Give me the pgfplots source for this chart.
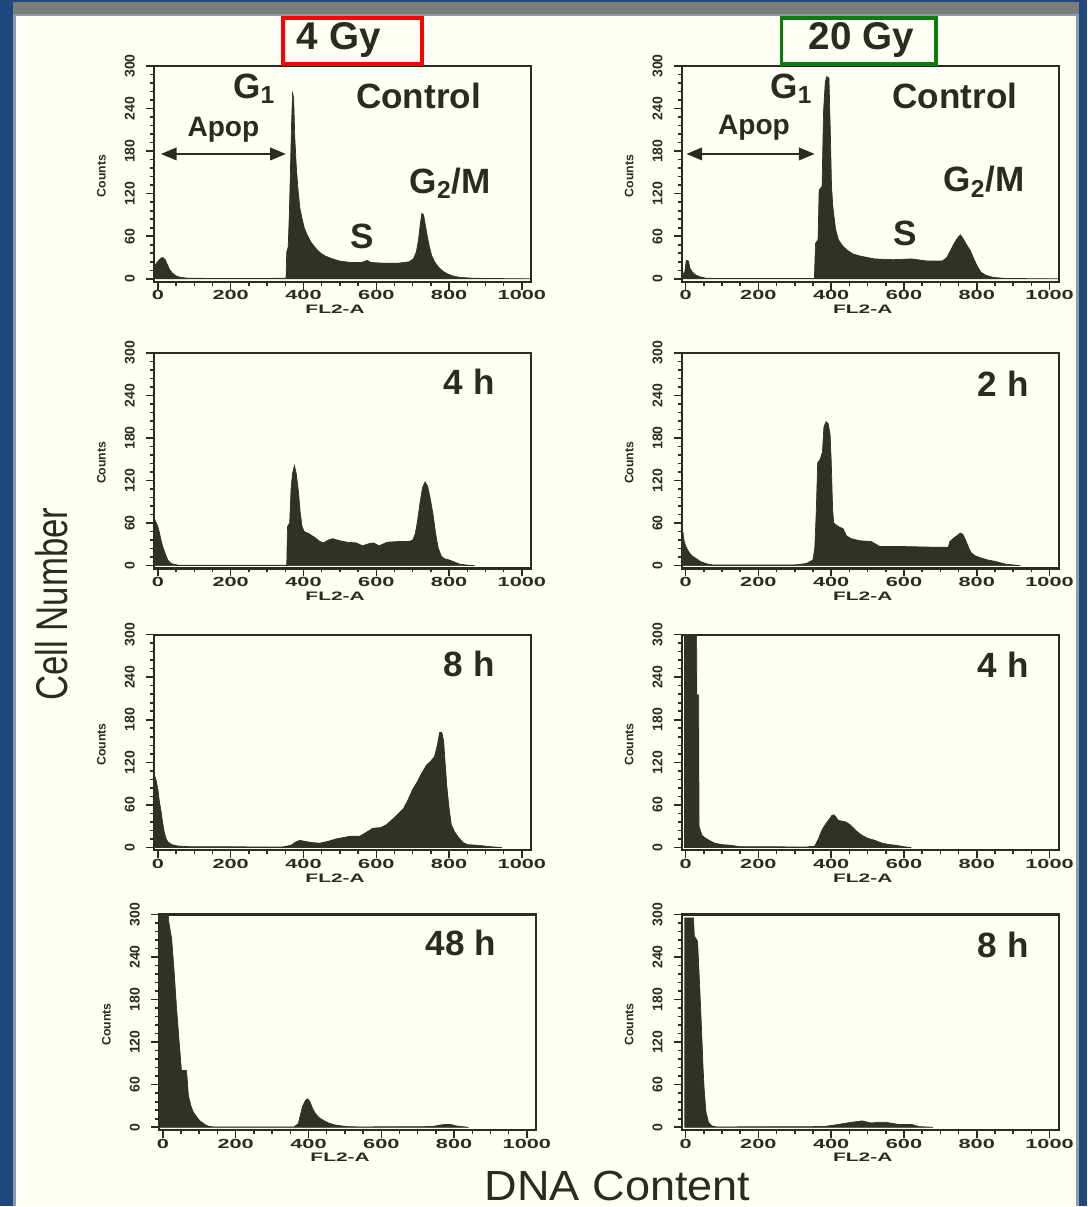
\documentclass[border=0pt]{standalone}
\usepackage{pgfplots}
\pgfplotsset{compat=1.18}
\usepackage{fontspec}
\setmainfont{Liberation Sans}
\usetikzlibrary{arrows.meta}

\definecolor{bgblue}{HTML}{1F497D}
\definecolor{cream}{HTML}{FFFFF5}
\definecolor{hist}{HTML}{2E3227}
\definecolor{ink}{HTML}{2B2B26}
\definecolor{topgray}{HTML}{7C7C7C}
\definecolor{edge}{HTML}{8C9BB0}
\definecolor{boxgreen}{HTML}{0A7D0A}

\newcommand{\smallbf}{\bfseries\fontsize{7}{8}\selectfont}
\newcommand{\annot}{\bfseries\fontsize{20}{22}\selectfont}

\pgfplotsset{facs/.style={
  scale only axis, width=7.54cm, height=4.316cm, anchor=south west,
  xmin=-10, xmax=1025, ymin=-4, ymax=300,
  axis background/.style={fill=cream},
  axis line style={line width=1.2pt, draw=ink},
  xtick={0,200,...,1000}, ytick={0,60,...,300},
  minor x tick num=3, minor y tick num=4,
  tick align=outside, tick pos=left,
  major tick length=4.5pt, minor tick length=2.2pt,
  tick style={line width=0.9pt, draw=ink},
  scaled ticks=false,
  /pgf/number format/assume math mode=true,
  /pgf/number format/1000 sep={},
  xticklabel style={font=\bfseries\fontsize{7.5}{8}\selectfont, xscale=1.65, text=ink},
  xticklabel shift={-3pt},
  yticklabel style={font=\bfseries\fontsize{8}{9}\selectfont, rotate=90, anchor=south, text=ink},
  yticklabel shift={3pt},
  xlabel={FL2-A},
  xlabel style={font=\smallbf, xscale=1.7, text=ink, at={(axis description cs:0.48,0)}, anchor=north, yshift=-0.34cm},
  ylabel={Counts},
  ylabel style={font=\smallbf, text=ink, at={(axis description cs:-0.14,0.49)}, anchor=center},
}}
\pgfplotsset{hplot/.style={fill=hist, draw=hist, line width=0.4pt}}

\begin{document}
\begin{tikzpicture}
% frame of the slide
\fill[bgblue] (0,0) rectangle (21.76,24.14);
\fill[topgray] (0.26,23.84) rectangle (21.6,24.10);
\fill[edge] (0.26,0) rectangle (21.6,23.86);
\fill[cream] (0.32,0) rectangle (21.54,23.82);

% ---- row 1: controls
\begin{axis}[facs, at={(3.087cm,18.503cm)}]
\addplot[hplot] coordinates {(-10,18) (-4,22) (2,26) (8,29) (14,30) (20,27) (26,20) (32,13) (40,8) (50,4) (62,2) (80,1) (150,0.5) (300,0.5) (352,1) (354,38) (358,45) (361,90) (364,150) (367,215) (370,262) (373,255) (376,200) (380,160) (385,125) (390,100) (396,85) (402,72) (410,62) (420,52) (432,44) (445,37) (460,32) (480,28) (500,25) (530,23) (560,23) (575,26) (585,23) (620,22) (660,22) (690,24) (702,28) (710,38) (716,55) (721,78) (725,92) (730,90) (735,75) (740,60) (746,45) (752,33) (760,24) (770,17) (782,11) (795,7) (810,4) (830,2) (860,1) (900,0.5) (1025,0)} \closedcycle;
\node[font=\annot, text=ink] at (axis cs:265,268) {G\textsubscript{1}};
\node[font=\annot, text=ink] at (axis cs:716,258) {Control};
\node[font=\bfseries\fontsize{16}{18}\selectfont, text=ink] at (axis cs:180,210) {Apop};
\draw[ink, line width=1.5pt, {Triangle[width=7pt,length=9pt]}-{Triangle[width=7pt,length=9pt]}] (axis cs:8,176) -- (axis cs:352,176);
\node[font=\annot, text=ink] at (axis cs:560,60) {S};
\node[font=\annot, text=ink] at (axis cs:803,135) {G\textsubscript{2}/M};
\end{axis}

\begin{axis}[facs, at={(13.647cm,18.503cm)}]
\addplot[hplot] coordinates {(-10,5) (-2,10) (2,26) (8,25) (12,15) (18,10) (26,6) (38,3) (55,1) (80,0.5) (354,0.5) (357,50) (364,55) (367,125) (375,130) (379,235) (384,278) (388,285) (394,283) (398,200) (401,130) (405,100) (412,70) (420,55) (432,46) (445,40) (460,35) (480,32) (520,28) (570,27) (620,28) (665,25) (705,25) (718,30) (728,40) (738,50) (748,58) (755,62) (762,57) (772,48) (782,40) (792,28) (802,17) (812,9) (825,5) (845,2) (880,0.5) (1025,0)} \closedcycle;
\node[font=\annot, text=ink] at (axis cs:291,268) {G\textsubscript{1}};
\node[font=\annot, text=ink] at (axis cs:740,258) {Control};
\node[font=\bfseries\fontsize{16}{18}\selectfont, text=ink] at (axis cs:188,213) {Apop};
\draw[ink, line width=1.5pt, {Triangle[width=7pt,length=9pt]}-{Triangle[width=7pt,length=9pt]}] (axis cs:2,176) -- (axis cs:355,176);
\node[font=\annot, text=ink] at (axis cs:604,64) {S};
\node[font=\annot, text=ink] at (axis cs:820,137) {G\textsubscript{2}/M};
\end{axis}

% ---- row 2
\begin{axis}[facs, at={(3.087cm,12.763cm)}]
\addplot[hplot] coordinates {(-10,66) (-4,60) (0,55) (5,45) (9,35) (14,26) (18,20) (23,13) (27,8) (34,4) (42,2) (58,0.5) (354,0.5) (356,55) (362,60) (366,110) (370,130) (375,141) (380,130) (386,105) (391,75) (396,55) (402,48) (415,45) (430,40) (445,34) (455,32) (468,36) (480,38) (500,35) (520,33) (545,32) (562,28) (580,31) (592,32) (608,28) (630,33) (660,34) (690,34) (700,36) (707,45) (713,62) (720,88) (727,110) (734,118) (741,112) (748,95) (756,72) (763,45) (770,25) (778,14) (786,10) (800,8) (815,5) (830,2) (845,1) (870,0)} \closedcycle;
\node[font=\annot, text=ink] at (axis cs:855,259) {4 h};
\end{axis}

\begin{axis}[facs, at={(13.647cm,12.763cm)}]
\addplot[hplot] coordinates {(-10,58) (-4,35) (0,28) (6,22) (12,17) (20,13) (29,10) (40,6) (50,4) (62,2) (75,1) (150,1) (300,1) (332,3) (350,8) (355,25) (359,75) (363,145) (370,150) (376,160) (380,195) (386,203) (392,200) (397,185) (400,150) (404,80) (407,60) (420,55) (433,52) (442,42) (455,38) (480,35) (510,34) (520,31) (533,27) (590,27) (680,26) (722,26) (726,34) (735,38) (745,42) (755,46) (762,44) (770,35) (778,25) (785,18) (795,14) (810,11) (830,8) (850,6) (880,2) (920,0)} \closedcycle;
\node[font=\annot, text=ink] at (axis cs:873,257) {2 h};
\end{axis}

% ---- row 3
\begin{axis}[facs, at={(3.087cm,7.123cm)}]
\addplot[hplot] coordinates {(-10,103) (-5,95) (0,82) (4,65) (9,50) (13,35) (18,20) (23,12) (27,8) (38,4) (55,2) (90,1) (200,1) (340,0.5) (365,3) (380,8) (390,10) (400,9) (420,7) (445,6) (470,9) (490,12) (510,14) (530,16) (555,16) (575,22) (590,27) (612,28) (628,32) (645,40) (660,47) (675,55) (688,68) (700,82) (712,92) (725,105) (738,116) (750,122) (760,128) (768,145) (774,162) (780,162) (785,150) (789,120) (794,85) (800,55) (806,32) (815,22) (826,14) (838,7) (850,4) (880,3) (915,1) (945,0)} \closedcycle;
\node[font=\annot, text=ink] at (axis cs:855,259) {8 h};
\end{axis}

\begin{axis}[facs, at={(13.647cm,7.123cm)}]
\addplot[hplot] coordinates {(-3,340) (30,340) (31,215) (36,215) (37,30) (45,17) (55,13) (65,10) (80,6) (100,4) (125,3) (150,1) (250,1) (330,0.5) (355,2) (365,12) (375,25) (385,33) (395,40) (402,45) (408,46) (414,42) (420,38) (430,37) (440,36) (452,32) (462,27) (472,22) (485,17) (500,13) (520,10) (540,6) (560,4) (580,3) (600,1) (620,0)} \closedcycle;
\node[font=\annot, text=ink] at (axis cs:873,258) {4 h};
\end{axis}

% ---- row 4
\begin{axis}[facs, at={(3.187cm,1.523cm)}]
\addplot[hplot] coordinates {(-10,340) (14,340) (16,290) (24,266) (31,219) (37,172) (44,125) (51,80) (65,80) (70,45) (77,30) (84,21) (95,13) (102,9) (115,4) (125,1.5) (140,0.5) (360,0.5) (372,5) (378,18) (384,30) (392,38) (398,40) (404,36) (410,28) (418,20) (428,14) (440,10) (455,6) (475,3) (505,1) (540,0.5) (740,1) (760,3) (775,4) (790,4) (805,2) (820,1) (840,0)} \closedcycle;
\node[font=\annot, text=ink] at (axis cs:819,260) {48 h};
\end{axis}

\begin{axis}[facs, at={(13.647cm,1.523cm)}]
\addplot[hplot] coordinates {(-2,295) (22,295) (24,270) (33,262) (36,230) (40,185) (45,125) (48,85) (51,55) (56,22) (63,7) (72,2) (85,0.5) (380,1) (420,4) (455,7) (485,9) (510,6) (530,7) (550,7) (585,4) (622,4) (640,1) (680,0)} \closedcycle;
\node[font=\annot, text=ink] at (axis cs:873,257) {8 h};
\end{axis}

% ---- titles and shared labels
\draw[red, line width=2.2pt] (5.66,22.86) rectangle (8.44,23.78);
\node[font=\bfseries\fontsize{22}{24}\selectfont, text=ink] at (6.78,23.33) {4 Gy};
\draw[boxgreen, line width=2.2pt] (15.64,22.86) rectangle (18.74,23.78);
\node[font=\bfseries\fontsize{22}{24}\selectfont, text=ink] at (17.24,23.33) {20 Gy};
\node[rotate=90, font=\fontsize{22}{24}\selectfont, text=ink] at (1.04,12.05) {\scalebox{0.9}[1.15]{Cell Number}};
\node[font=\fontsize{24}{26}\selectfont, text=ink] at (12.36,0.40) {\scalebox{1.07}[1]{DNA Content}};
\end{tikzpicture}
\end{document}
